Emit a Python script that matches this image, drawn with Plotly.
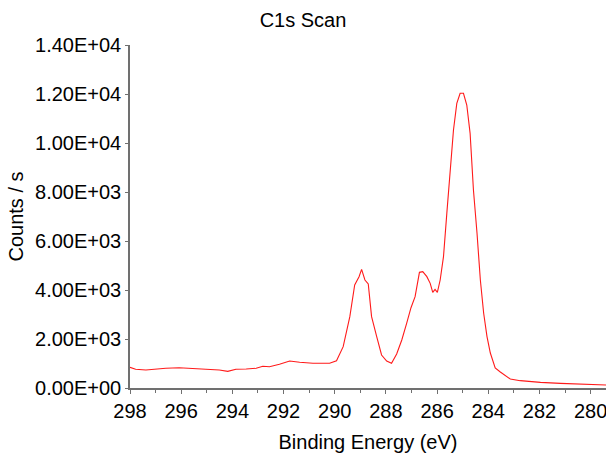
import plotly.graph_objects as go

# Binding energy (eV) and counts/s
energy = [298.0, 297.78, 297.38, 296.99, 296.60, 296.08, 295.55, 295.03, 294.51, 294.18,
          293.86, 293.46, 293.07, 292.81, 292.55, 292.16, 291.76, 291.37, 290.85, 290.20,
          289.93, 289.67, 289.41, 289.22, 289.05, 288.95, 288.82, 288.69, 288.56, 288.36,
          288.17, 287.97, 287.78, 287.58, 287.38, 287.19, 287.02, 286.86, 286.69, 286.56,
          286.40, 286.27, 286.17, 286.08, 285.99, 285.88, 285.75, 285.62, 285.49, 285.36,
          285.23, 285.10, 284.97, 284.84, 284.71, 284.58, 284.44, 284.31, 284.18, 284.05,
          283.92, 283.73, 283.53, 283.14, 282.75, 282.35, 281.96, 281.18, 280.39, 279.37]
counts = [845, 763, 735, 776, 804, 829, 804, 763, 735, 680,
          763, 776, 804, 886, 869, 967, 1102, 1049, 1008, 1008,
          1114, 1686, 2911, 4204, 4544, 4844, 4408, 4245, 2911, 2095,
          1347, 1102, 1008, 1388, 1959, 2640, 3278, 3727, 4721, 4748,
          4544, 4272, 3905, 4027, 3905, 4408, 5360, 7129, 9033, 10531,
          11620, 12028, 12028, 11551, 10395, 8082, 6314, 4408, 3049, 2100,
          1429, 816, 653, 367, 299, 258, 231, 190, 150, 122]

x_tick_vals = [298, 296, 294, 292, 290, 288, 286, 284, 282, 280]
y_tick_vals = [0, 2000, 4000, 6000, 8000, 10000, 12000, 14000]
y_tick_text = ["0.00E+00", "2.00E+03", "4.00E+03", "6.00E+03", "8.00E+03",
               "1.00E+04", "1.20E+04", "1.40E+04"]

fig = go.Figure()
fig.add_trace(go.Scatter(x=energy, y=counts, mode="lines",
                         line=dict(color="#ff1a1a", width=1.1), showlegend=False))

font = "Arial, Liberation Sans, sans-serif"
fig.update_layout(
    width=606, height=459,
    margin=dict(l=130, r=0, t=45, b=71, autoexpand=False),
    paper_bgcolor="white", plot_bgcolor="white",
    font=dict(family=font, size=20, color="black"),
    title=dict(text="C1s Scan", x=0.5, xref="container", xanchor="center",
               y=1 - 20 / 459, yref="container", yanchor="middle",
               font=dict(size=20, color="black", family=font)),
)

fig.update_xaxes(
    range=[298, 279.4], tickvals=x_tick_vals, ticks="outside", automargin=False,
    ticklabeloverflow="allow",
    ticklen=4, tickcolor="#707070", showline=True, linecolor="#707070", linewidth=1.5,
    showgrid=False, zeroline=False,
    minor=dict(dtick=1, ticks="outside", ticklen=3, tickcolor="#707070", showgrid=False),
    title=dict(text="Binding Energy (eV)", standoff=14, font=dict(size=20)),
    tickfont=dict(size=20),
)
fig.update_yaxes(
    range=[0, 14000], tickvals=y_tick_vals, ticktext=y_tick_text, ticks="outside",
    automargin=False, ticklabeloverflow="allow",
    ticklen=3, tickcolor="#707070", showline=True, linecolor="#707070", linewidth=1.5,
    showgrid=False, zeroline=False,
    title=dict(text="Counts / s", standoff=6, font=dict(size=20)),
    tickfont=dict(size=20),
)

fig.write_html(
    "out.html",
    config={"displayModeBar": False},
    post_script="document.body.style.margin='0';document.body.style.overflow='hidden';",
)
